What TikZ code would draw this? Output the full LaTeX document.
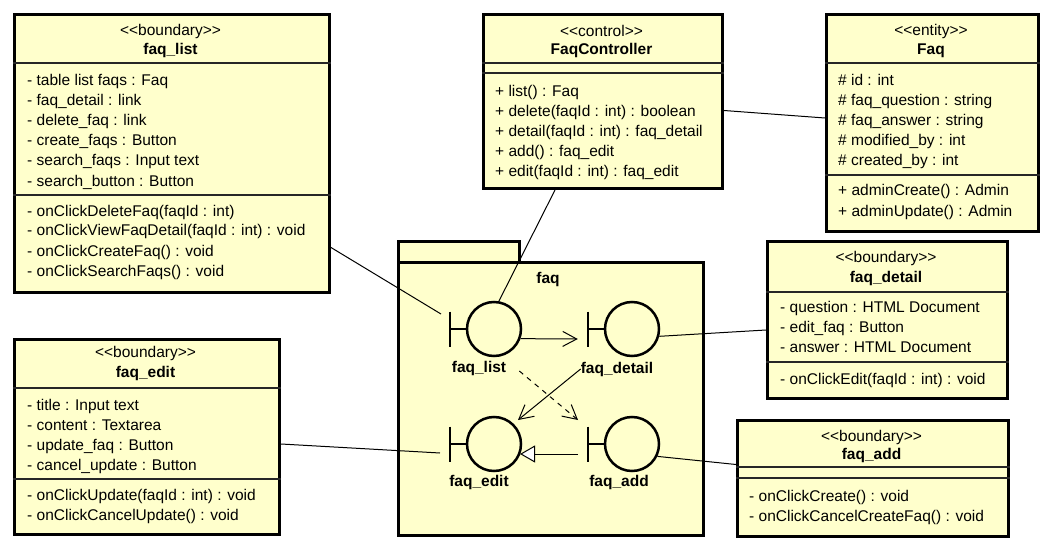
\documentclass[tikz,border=0pt]{standalone}
\usepackage{fontspec}
\setmainfont{Liberation Sans}
\usetikzlibrary{arrows.meta,calc}
\definecolor{umlfill}{RGB}{255,255,204}
\newcommand\umlfs{\fontsize{15.5}{18}\selectfont}
\newcommand\stereo[1]{<{}<#1>{}>}
\begin{document}
\begin{tikzpicture}[x=1pt,y=-1pt,
  classbox/.style={draw, line width=3pt, fill=umlfill, anchor=north west, inner sep=0pt},
  sepline/.style={line width=1.3pt, draw=black!85},
  txt/.style={inner sep=0pt, text height=11pt, text depth=3pt, font=\umlfs, anchor=west},
  ctxt/.style={inner sep=0pt, text height=11pt, text depth=3pt, font=\umlfs, anchor=center},
  nametxt/.style={ctxt, font=\umlfs\bfseries},
  bcircle/.style={circle, draw, line width=2.5pt, minimum size=54pt, inner sep=0pt},
  bbar/.style={line width=2.5pt},
  conn/.style={line width=1pt},
  openarrow/.style={conn, -{Straight Barb[length=14pt,width=15pt]}},
  dasharrow/.style={openarrow, dash pattern=on 5pt off 5pt},
  genarrow/.style={conn, -{Triangle[open, length=15pt, width=17pt, fill=white]}}
]
\useasboundingbox (0,0) rectangle (1049,548);
\fill[white] (0,0) rectangle (1049,548);

% ---------- package ----------
\node[classbox, minimum width=121pt, minimum height=21pt] (pkgtab) at (397,240) {};
\node[classbox, minimum width=305pt, minimum height=273pt] (pkg) at (397,261) {};
\node[nametxt] (pkgname) at (548,279) {faq};

% ---------- faq_list ----------
\node[classbox, minimum width=315pt, minimum height=278pt] (faqlist) at (13,13) {};
\draw[sepline] ($(faqlist.north west)+(0,50)$) -- ($(faqlist.north east)+(0,50)$);
\draw[sepline] ($(faqlist.north west)+(0,182)$) -- ($(faqlist.north east)+(0,182)$);
\node[ctxt] (flst) at (170.5,32) {\stereo{boundary}};
\node[nametxt] (flnm) at (170.5,51) {faq\_list};
\node[txt] (fla1) at (27,82) {- table list faqs : Faq};
\node[txt] (fla2) at (27,102) {- faq\_detail : link};
\node[txt] (fla3) at (27,122) {- delete\_faq : link};
\node[txt] (fla4) at (27,142) {- create\_faqs : Button};
\node[txt] (fla5) at (27,162) {- search\_faqs : Input text};
\node[txt] (fla6) at (27,182) {- search\_button : Button};
\node[txt] (flm1) at (27,212) {- onClickDeleteFaq(faqId : int)};
\node[txt] (flm2) at (27,232) {- onClickViewFaqDetail(faqId : int) : void};
\node[txt] (flm3) at (27,252) {- onClickCreateFaq() : void};
\node[txt] (flm4) at (27,272) {- onClickSearchFaqs() : void};

% ---------- FaqController ----------
\node[classbox, minimum width=239pt, minimum height=174pt] (ctrl) at (482,13) {};
\draw[sepline] ($(ctrl.north west)+(0,50)$) -- ($(ctrl.north east)+(0,50)$);
\draw[sepline] ($(ctrl.north west)+(0,60)$) -- ($(ctrl.north east)+(0,60)$);
\node[ctxt] (ctst) at (601.5,33) {\stereo{control}};
\node[nametxt] (ctnm) at (601.5,51) {FaqController};
\node[txt] (ctm1) at (495,93) {+ list() : Faq};
\node[txt] (ctm2) at (495,113) {+ delete(faqId : int) : boolean};
\node[txt] (ctm3) at (495,133) {+ detail(faqId : int) : faq\_detail};
\node[txt] (ctm4) at (495,153) {+ add() : faq\_edit};
\node[txt] (ctm5) at (495,173) {+ edit(faqId : int) : faq\_edit};

% ---------- Faq ----------
\node[classbox, minimum width=212pt, minimum height=217pt] (faq) at (825,13) {};
\draw[sepline] ($(faq.north west)+(0,50)$) -- ($(faq.north east)+(0,50)$);
\draw[sepline] ($(faq.north west)+(0,162)$) -- ($(faq.north east)+(0,162)$);
\node[ctxt] (fqst) at (931,32) {\stereo{entity}};
\node[nametxt] (fqnm) at (931,51) {Faq};
\node[txt] (fqa1) at (838,82) {\# id : int};
\node[txt] (fqa2) at (838,102) {\# faq\_question : string};
\node[txt] (fqa3) at (838,122) {\# faq\_answer : string};
\node[txt] (fqa4) at (838,142) {\# modified\_by : int};
\node[txt] (fqa5) at (838,162) {\# created\_by : int};
\node[txt] (fqm1) at (838,192) {+ adminCreate() : Admin};
\node[txt] (fqm2) at (838,212) {+ adminUpdate() : Admin};

% ---------- faq_detail ----------
\node[classbox, minimum width=240pt, minimum height=157pt] (detail) at (766,240) {};
\draw[sepline] ($(detail.north west)+(0,52)$) -- ($(detail.north east)+(0,52)$);
\draw[sepline] ($(detail.north west)+(0,122)$) -- ($(detail.north east)+(0,122)$);
\node[ctxt] (fdst) at (886,258) {\stereo{boundary}};
\node[nametxt] (fdnm) at (886,278) {faq\_detail};
\node[txt] (fda1) at (780,308) {- question : HTML Document};
\node[txt] (fda2) at (780,328) {- edit\_faq : Button};
\node[txt] (fda3) at (780,348) {- answer : HTML Document};
\node[txt] (fdm1) at (780,380) {- onClickEdit(faqId : int) : void};

% ---------- faq_edit ----------
\node[classbox, minimum width=265pt, minimum height=195pt] (edit) at (13,338) {};
\draw[sepline] ($(edit.north west)+(0,50)$) -- ($(edit.north east)+(0,50)$);
\draw[sepline] ($(edit.north west)+(0,141)$) -- ($(edit.north east)+(0,141)$);
\node[ctxt] (fest) at (145.5,353) {\stereo{boundary}};
\node[nametxt] (fenm) at (145.5,373) {faq\_edit};
\node[txt] (fea1) at (27,406) {- title : Input text};
\node[txt] (fea2) at (27,426) {- content : Textarea};
\node[txt] (fea3) at (27,446) {- update\_faq : Button};
\node[txt] (fea4) at (27,466) {- cancel\_update : Button};
\node[txt] (fem1) at (27,496) {- onClickUpdate(faqId : int) : void};
\node[txt] (fem2) at (27,516) {- onClickCancelUpdate() : void};

% ---------- faq_add ----------
\node[classbox, minimum width=271pt, minimum height=116pt] (add) at (736,419) {};
\draw[sepline] ($(add.north west)+(0,48)$) -- ($(add.north east)+(0,48)$);
\draw[sepline] ($(add.north west)+(0,59)$) -- ($(add.north east)+(0,59)$);
\node[ctxt] (fast) at (871.5,437) {\stereo{boundary}};
\node[nametxt] (fanm) at (871.5,455) {faq\_add};
\node[txt] (fam1) at (749,497) {- onClickCreate() : void};
\node[txt] (fam2) at (749,517) {- onClickCancelCreateFaq() : void};

% ---------- boundary icons ----------
\node[bcircle] (listc) at (494,329) {};
\draw[bbar] ($(listc.center)+(-44,-17.5)$) -- ++(0,35);
\draw[bbar] ($(listc.center)+(-44,0)$) -- (listc.west);
\node[nametxt] (listl) at (479,368) {faq\_list};

\node[bcircle] (detailc) at (632,329) {};
\draw[bbar] ($(detailc.center)+(-44,-17.5)$) -- ++(0,35);
\draw[bbar] ($(detailc.center)+(-44,0)$) -- (detailc.west);
\node[nametxt] (detaill) at (617,369) {faq\_detail};

\node[bcircle] (editc) at (494,444) {};
\draw[bbar] ($(editc.center)+(-44,-17.5)$) -- ++(0,35);
\draw[bbar] ($(editc.center)+(-44,0)$) -- (editc.west);
\node[nametxt] (editl) at (479,482) {faq\_edit};

\node[bcircle] (addc) at (632,444) {};
\draw[bbar] ($(addc.center)+(-44,-17.5)$) -- ++(0,35);
\draw[bbar] ($(addc.center)+(-44,0)$) -- (addc.west);
\node[nametxt] (addl) at (619,482) {faq\_add};

% ---------- connectors ----------
\draw[conn] ($(faqlist.east)+(0,94)$) -- ($(listc.center)+(-53,-15)$);
\draw[conn] ($(ctrl.south west)+(73,0)$) -- (listc.80);
\draw[conn] ($(ctrl.east)+(0,9)$) -- ($(faq.west)+(0,-5)$);
\draw[conn] (detailc.-15) -- ($(detail.west)+(0,10)$);
\draw[conn] ($(edit.east)+(0,7)$) -- ($(editc.center)+(-54,9)$);
\draw[conn] (addc.-26) -- ($(add.west)+(0,-14)$);

\draw[openarrow] (listc.-20) -- ($(detailc.west)+(-26,10)$);
\draw[openarrow] (detaill.west) -- ($(editc.center)+(24,-24)$);
\draw[dasharrow] ($(listl.east)+(13,3)$) -- ($(addc.center)+(-54,-24)$);
\draw[genarrow] ($(addc.center)+(-54,10)$) -- ($(editc.center)+(26,10)$);
\end{tikzpicture}
\end{document}
